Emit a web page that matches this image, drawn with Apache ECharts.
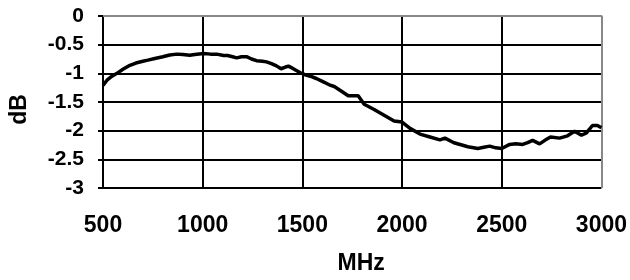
<!DOCTYPE html>
<html>
<head>
<meta charset="utf-8">
<script src="https://cdn.jsdelivr.net/npm/echarts@6/dist/echarts.min.js"></script>
<style>
  html, body { margin: 0; padding: 0; background: #fff; }
  #chart { width: 630px; height: 280px; }
</style>
</head>
<body>
<div id="chart"></div>
<script>
// frequency (MHz) and loss (dB)
var freq = [500, 520, 545, 570, 600, 635, 665, 700, 725, 760, 800, 835, 870, 900, 935, 960,
  1005, 1040, 1070, 1105, 1125, 1150, 1170, 1195, 1220, 1245, 1270, 1300, 1320, 1345, 1370,
  1393, 1415, 1430, 1450, 1470, 1490, 1510, 1540, 1570, 1600, 1635, 1660, 1700, 1730, 1780,
  1810, 1860, 1910, 1960, 2000, 2040, 2090, 2140, 2190, 2215, 2260, 2300, 2330, 2380, 2410,
  2440, 2470, 2500, 2540, 2570, 2605, 2630, 2655, 2690, 2720, 2745, 2790, 2830, 2865, 2900,
  2925, 2955, 2980, 3000];
var db = [-1.21, -1.12, -1.05, -1.00, -0.93, -0.86, -0.82, -0.79, -0.77, -0.74, -0.71, -0.68,
  -0.665, -0.67, -0.685, -0.67, -0.655, -0.665, -0.665, -0.69, -0.69, -0.71, -0.73, -0.71,
  -0.71, -0.75, -0.78, -0.79, -0.80, -0.83, -0.87, -0.92, -0.89, -0.875, -0.91, -0.95, -0.99,
  -1.02, -1.05, -1.09, -1.14, -1.20, -1.23, -1.32, -1.39, -1.39, -1.54, -1.63, -1.73, -1.83,
  -1.85, -1.96, -2.06, -2.11, -2.16, -2.13, -2.21, -2.25, -2.28, -2.31, -2.29, -2.27, -2.30,
  -2.31, -2.24, -2.23, -2.24, -2.21, -2.17, -2.23, -2.16, -2.11, -2.13, -2.09, -2.01, -2.08,
  -2.04, -1.91, -1.91, -1.95];

var font = 'Liberation Sans, Arial, sans-serif';
var chart = echarts.init(document.getElementById('chart'));

var points = freq.map(function (f, i) { return [f, db[i]]; });

chart.setOption({
  animation: false,
  grid: { left: 101, right: 28, top: 16, bottom: 88 },
  xAxis: {
    type: 'value',
    min: 500,
    max: 3000,
    interval: 500,
    name: 'MHz',
    nameLocation: 'middle',
    nameGap: 64,
    nameTextStyle: { fontFamily: font, fontSize: 23, fontWeight: 'bold', color: '#000', padding: [0, 0, 0, 18] },
    axisLine: { show: true, lineStyle: { color: '#888', width: 2 } },
    axisTick: { show: false },
    axisLabel: {
      margin: 26, fontFamily: font, fontSize: 23, fontWeight: 'bold', color: '#000',
      formatter: function (v) { return String(v); }
    },
    splitLine: { show: true, lineStyle: { color: ['#000', '#000', '#000', '#000', '#000', '#888'], width: 2 } }
  },
  yAxis: {
    type: 'value',
    min: -3,
    max: 0,
    interval: 0.5,
    name: 'dB',
    nameLocation: 'middle',
    nameGap: 72,
    nameTextStyle: { fontFamily: font, fontSize: 23, fontWeight: 'bold', color: '#000', padding: [0, 15, 0, 0] },
    axisLine: { show: true, lineStyle: { color: '#000', width: 2 } },
    axisTick: { show: true, length: 5, lineStyle: { color: '#000', width: 2 } },
    axisLabel: {
      margin: 19, fontFamily: font, fontSize: 21, fontWeight: 'bold', color: '#000',
      formatter: function (v) { return String(v); }
    },
    splitLine: { show: true, lineStyle: { color: '#000', width: 2 } }
  },
  series: [{
    type: 'line',
    data: points,
    showSymbol: false,
    lineStyle: { color: '#000', width: 3.5 }
  }]
});
</script>
</body>
</html>
